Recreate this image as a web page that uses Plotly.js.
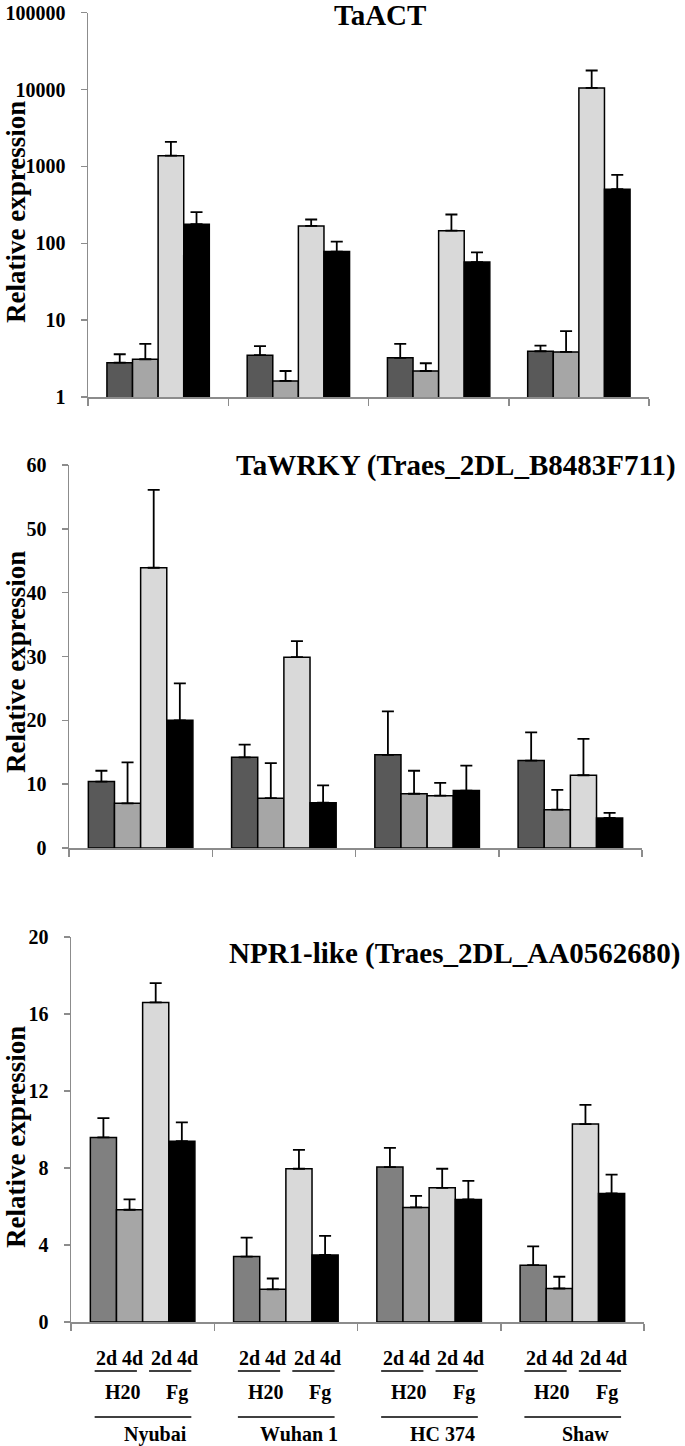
<!DOCTYPE html>
<html>
<head>
<meta charset="utf-8">
<script src="https://cdn.plot.ly/plotly-3.0.1.min.js"></script>
<style>
  body { margin: 0; background: #fff; }
  #chart { width: 685px; height: 1446px; }
</style>
</head>
<body>
<div id="chart"></div>
<script>
// genotypes on the x axis
const genotypes = ['Nyubai', 'Wuhan 1', 'HC 374', 'Shaw'];
const dayLabels = ['2d', '4d'];
const treatLabels = ['H20', 'Fg'];

// TaACT (log scale)
const actH2o2d = [2.8, 3.5, 3.23, 3.94];
const actH2o2dErr = [0.8, 1.1, 1.68, 0.73];
const actH2o4d = [3.1, 1.62, 2.18, 3.86];
const actH2o4dErr = [1.8, 0.56, 0.57, 3.33];
const actFg2d = [1380, 168, 146, 10500];
const actFg2dErr = [700, 36, 91, 7200];
const actFg4d = [177, 78, 57, 506];
const actFg4dErr = [77, 27, 19, 272];

// TaWRKY
const wrkyH2o2d = [10.4, 14.2, 14.6, 13.7];
const wrkyH2o2dErr = [1.7, 2.0, 6.8, 4.4];
const wrkyH2o4d = [7.0, 7.8, 8.5, 6.0];
const wrkyH2o4dErr = [6.4, 5.5, 3.6, 3.1];
const wrkyFg2d = [43.9, 29.9, 8.2, 11.4];
const wrkyFg2dErr = [12.2, 2.5, 2.0, 5.7];
const wrkyFg4d = [20.0, 7.1, 9.0, 4.7];
const wrkyFg4dErr = [5.8, 2.7, 3.9, 0.8];

// NPR1-like
const nprH2o2d = [9.59, 3.4, 8.05, 2.95];
const nprH2o2dErr = [1.0, 0.98, 1.0, 0.98];
const nprH2o4d = [5.83, 1.7, 5.95, 1.74];
const nprH2o4dErr = [0.54, 0.56, 0.6, 0.61];
const nprFg2d = [16.6, 7.96, 6.97, 10.28];
const nprFg2dErr = [1.0, 0.98, 0.99, 1.0];
const nprFg4d = [9.39, 3.48, 6.37, 6.68];
const nprFg4dErr = [0.98, 0.99, 0.96, 0.98];

const FONT = 'Liberation Serif, serif';
const H = 1446, W = 685;
const py = p => (H - p) / H;   // pixel row -> paper y
const px = p => p / W;         // pixel col -> paper x

function series(vals, errs, color, xa, ya) {
  return {
    type: 'bar',
    x: [0, 1, 2, 3],
    y: vals,
    xaxis: xa,
    yaxis: ya,
    marker: { color: color, line: { color: '#000', width: 1.5 } },
    error_y: {
      type: 'data', symmetric: false,
      array: errs, arrayminus: errs.map(() => 0),
      color: '#000', thickness: 1.8, width: 6
    },
    showlegend: false,
    hoverinfo: 'y'
  };
}

const data = [
  series(actH2o2d, actH2o2dErr, '#595959', 'x', 'y'),
  series(actH2o4d, actH2o4dErr, '#a6a6a6', 'x', 'y'),
  series(actFg2d, actFg2dErr, '#d9d9d9', 'x', 'y'),
  series(actFg4d, actFg4dErr, '#000000', 'x', 'y'),
  series(wrkyH2o2d, wrkyH2o2dErr, '#595959', 'x2', 'y2'),
  series(wrkyH2o4d, wrkyH2o4dErr, '#a6a6a6', 'x2', 'y2'),
  series(wrkyFg2d, wrkyFg2dErr, '#d9d9d9', 'x2', 'y2'),
  series(wrkyFg4d, wrkyFg4dErr, '#000000', 'x2', 'y2'),
  series(nprH2o2d, nprH2o2dErr, '#808080', 'x3', 'y3'),
  series(nprH2o4d, nprH2o4dErr, '#a6a6a6', 'x3', 'y3'),
  series(nprFg2d, nprFg2dErr, '#d9d9d9', 'x3', 'y3'),
  series(nprFg4d, nprFg4dErr, '#000000', 'x3', 'y3')
];

const tickFont = { family: FONT, size: 20, color: '#000', weight: 'bold' };

function xAxis(domain, anchor) {
  return {
    domain: domain, anchor: anchor, range: [-0.5, 3.5],
    showline: true, linecolor: '#8c8c8c', linewidth: 1.5,
    showgrid: false, zeroline: false,
    tickmode: 'array', tickvals: [-0.5, 0.5, 1.5, 2.5, 3.5],
    ticktext: ['', '', '', '', ''],
    ticks: 'outside', ticklen: 7, tickwidth: 1.5, tickcolor: '#8c8c8c'
  };
}
function yAxis(domain, anchor, extra) {
  return Object.assign({
    domain: domain, anchor: anchor,
    showline: true, linecolor: '#8c8c8c', linewidth: 1.5,
    showgrid: false, zeroline: false,
    ticks: 'outside', ticklen: 6, tickwidth: 1.5, tickcolor: '#8c8c8c',
    ticklabelstandoff: 11,
    tickfont: tickFont
  }, extra);
}

const annotations = [];
const shapes = [];
function title(text, x, y, xanchor) {
  annotations.push({
    text: text, xref: 'paper', yref: 'paper', x: x, y: y,
    xanchor: xanchor, yanchor: 'middle', showarrow: false,
    font: { family: FONT, size: 29, color: '#000', weight: 'bold' }
  });
}
function yTitle(y) {
  annotations.push({
    text: 'Relative expression', xref: 'paper', yref: 'paper',
    x: 0, y: py(y), xanchor: 'left', yanchor: 'middle',
    textangle: -90, showarrow: false, borderpad: 0,
    font: { family: FONT, size: 27, color: '#000', weight: 'bold' }
  });
}
title('TaACT', px(380), py(15), 'center');
title('TaWRKY (Traes_2DL_B8483F711)', px(678), py(466), 'right');
title('NPR1-like (Traes_2DL_AA0562680)', px(682), py(953), 'right');
yTitle(212);
yTitle(662);
yTitle(1137);

// grouping labels under the bottom panel
const lblFont = { family: FONT, size: 20, color: '#000', weight: 'bold' };
function lbl(text, x, y) {
  annotations.push({
    text: text, xref: 'x3', yref: 'paper', x: x, y: py(y),
    xanchor: 'center', yanchor: 'middle', showarrow: false, font: lblFont
  });
}
function hline(x0, x1, y) {
  shapes.push({
    type: 'line', xref: 'x3', yref: 'paper', x0: x0, x1: x1, y0: py(y), y1: py(y),
    line: { color: '#000', width: 1.6 }
  });
}
genotypes.forEach((g, i) => {
  lbl(dayLabels.join(' '), i - 0.16, 1358);
  lbl(dayLabels.join(' '), i + 0.22, 1358);
  hline(i - 0.335, i - 0.04, 1371);
  hline(i + 0.045, i + 0.34, 1371);
  lbl(treatLabels[0], i - 0.14, 1392);
  lbl(treatLabels[1], i + 0.24, 1392);
  hline(i - 0.335, i + 0.34, 1417);
  lbl(g, i + 0.09, 1434);
});

const layout = {
  width: W, height: H,
  margin: { l: 0, r: 0, t: 0, b: 0 },
  paper_bgcolor: '#fff', plot_bgcolor: '#fff',
  barmode: 'group', bargap: 0.27, bargroupgap: 0,
  xaxis: xAxis([px(88), px(649)], 'y'),
  yaxis: yAxis([py(397), py(12.7)], 'x', {
    type: 'log', range: [0, 5],
    tickmode: 'array',
    tickvals: [1, 10, 100, 1000, 10000, 100000],
    ticktext: ['1', '10', '100', '1000', '10000', '100000']
  }),
  xaxis2: xAxis([px(69), px(642)], 'y2'),
  yaxis2: yAxis([py(848), py(465)], 'x2', {
    range: [0, 60], tickmode: 'array', tickvals: [0, 10, 20, 30, 40, 50, 60]
  }),
  xaxis3: xAxis([px(71), px(644)], 'y3'),
  yaxis3: yAxis([py(1322), py(937)], 'x3', {
    range: [0, 20], tickmode: 'array', tickvals: [0, 4, 8, 12, 16, 20]
  }),
  annotations: annotations,
  shapes: shapes
};

Plotly.newPlot('chart', data, layout, { staticPlot: true });
</script>
</body>
</html>
